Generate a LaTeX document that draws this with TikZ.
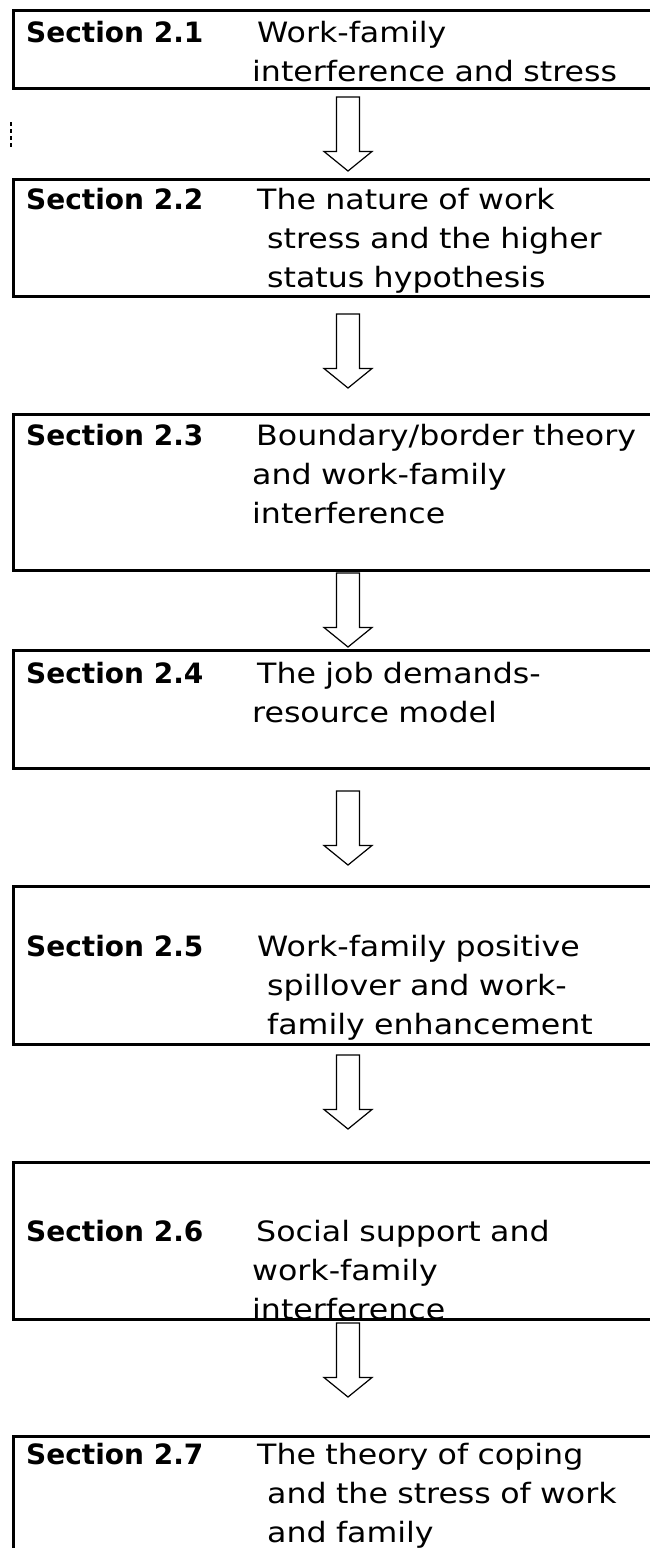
\documentclass[tikz,border=0pt]{standalone}
\usepackage{fontspec}
\setmainfont{DejaVu Sans}
\newfontfamily\descfont{DejaVu Sans}[FakeStretch=1.13]

\begin{document}
\begin{tikzpicture}[x=1pt,y=-1pt,
		secbox/.style={draw,line width=2.5pt,anchor=north west,inner sep=0pt,minimum width=670pt},
		seclabel/.style={anchor=base west,inner sep=0pt,font=\fontsize{28}{39}\selectfont\bfseries},
		sectext/.style={anchor=base west,inner sep=0pt,text width=420pt,align=left,font=\fontsize{28}{39}\selectfont\descfont},
		flow/.style={draw,line width=1.2pt,line join=miter}]
		\useasboundingbox (0,0) rectangle (650,1548);

		% section boxes
		\node[secbox,minimum height=78pt] (s1) at (12,9){};
		\node[secbox,minimum height=117pt] (s2) at (12,178){};
		\node[secbox,minimum height=156pt] (s3) at (12,413){};
		\node[secbox,minimum height=118pt] (s4) at (12,649){};
		\node[secbox,minimum height=158pt] (s5) at (12,885){};
		\node[secbox,minimum height=157pt] (s6) at (12,1161){};
		\node[secbox,minimum height=140pt] (s7) at (12,1435){};

		\node[seclabel] (l1) at (26,42){Section 2.1};
		\node[seclabel] (l2) at (26,209){Section 2.2};
		\node[seclabel] (l3) at (26,445){Section 2.3};
		\node[seclabel] (l4) at (26,683){Section 2.4};
		\node[seclabel] (l5) at (26,956){Section 2.5};
		\node[seclabel] (l6) at (26,1241){Section 2.6};
		\node[seclabel] (l7) at (26,1464){Section 2.7};

		\node[sectext] (d1) at (252,42){\hspace*{5pt}Work-family\\interference and stress};
		\node[sectext] (d2) at (252,209){\hspace*{5pt}The nature of work\\\hspace*{15pt}stress and the higher\\\hspace*{15pt}status hypothesis};
		\node[sectext] (d3) at (252,445){\hspace*{4pt}Boundary/border theory\\and work-family\\interference};
		\node[sectext] (d4) at (252,683){\hspace*{5pt}The job demands-\\resource model};
		\node[sectext] (d5) at (252,956){\hspace*{5pt}Work-family positive\\\hspace*{15pt}spillover and work-\\\hspace*{15pt}family enhancement};
		\node[sectext] (d6) at (252,1241){\hspace*{4pt}Social support and\\work-family\\interference};
		\node[sectext] (d7) at (252,1464){\hspace*{5pt}The theory of coping\\\hspace*{15pt}and the stress of work\\\hspace*{15pt}and family};

		% hollow arrows between the boxes
		\foreach \i/\t in {1/97,2/314,3/573,4/791,5/1055,6/1323}
			\draw[flow] (348,\t) coordinate (a\i) ++(-11.5,0) -- ++(0,54.5) -- ++(-12.5,0)
				-- ++(24,19.5) -- ++(24,-19.5) -- ++(-12.5,0) -- ++(0,-54.5) -- cycle;

		\draw[line width=1.5pt,dash pattern=on 4pt off 3pt] (11,122) -- (11,147);
	\end{tikzpicture}
\end{document}
